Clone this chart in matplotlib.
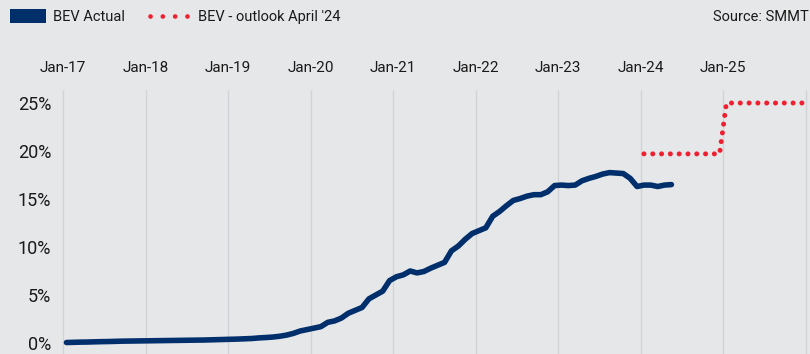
import matplotlib
matplotlib.use("Agg")
import matplotlib.pyplot as plt
from matplotlib.lines import Line2D
from matplotlib.patches import Rectangle
import numpy as np

plt.rcParams['font.family'] = ['Roboto', 'DejaVu Sans']

# Monthly BEV share of new registrations (%), Jan-17 to May-24
bev_actual = [
    0.05, 0.07, 0.09, 0.10, 0.12, 0.14, 0.15, 0.17, 0.19, 0.20, 0.21, 0.22,
    0.23, 0.24, 0.25, 0.26, 0.27, 0.28, 0.29, 0.30, 0.31, 0.33, 0.35, 0.37,
    0.39, 0.41, 0.44, 0.47, 0.53, 0.57, 0.62, 0.70, 0.82, 1.00, 1.25, 1.40,
    1.55, 1.70, 2.15, 2.30, 2.60, 3.10, 3.40, 3.70, 4.60, 5.00, 5.40, 6.50,
    6.90, 7.10, 7.50, 7.30, 7.45, 7.80, 8.10, 8.40, 9.60, 10.10, 10.80, 11.40,
    11.70, 12.00, 13.20, 13.70, 14.30, 14.85, 15.05, 15.30, 15.45, 15.45, 15.75, 16.40,
    16.45, 16.40, 16.45, 16.90, 17.15, 17.35, 17.60, 17.75, 17.70, 17.65, 17.15, 16.30,
    16.45, 16.45, 16.30, 16.45, 16.50,
]
# Outlook (April '24): 2024 and 2025 monthly levels (%)
bev_outlook = [19.7] * 12 + [25.0] * 12
outlook_start = 84  # months after Jan-17

year_labels = ["Jan-17", "Jan-18", "Jan-19", "Jan-20", "Jan-21",
               "Jan-22", "Jan-23", "Jan-24", "Jan-25", ""]
y_ticks = [0, 5, 10, 15, 20, 25]

BG = "#e6e7e9"
NAVY = "#002f6c"
RED = "#ee2030"
GRID = "#d2d3d6"

W, H = 810, 354
fig = plt.figure(figsize=(W / 100, H / 100), dpi=100, facecolor=BG)

# axes box in pixels
left_px, top_px = 58, 90
ax = fig.add_axes([left_px / W, 0, (W - left_px) / W, (H - top_px) / H])
ax.set_facecolor(BG)

# x in months from Jan-17; monthly points sit in the middle of their month
x_act = np.arange(len(bev_actual)) + 0.5
x_out = np.arange(len(bev_outlook)) + outlook_start + 0.5

ax.plot(x_act, bev_actual, color=NAVY, lw=4.0, solid_capstyle="round",
        solid_joinstyle="round", zorder=3)
ax.plot(x_out, bev_outlook, color=RED, lw=3.6, dashes=(0.01, 1.75),
        dash_capstyle="round", zorder=3)

px_per_month = 6.875
x0_px = 63
ax.set_xlim((left_px - x0_px) / px_per_month, (W - x0_px) / px_per_month)
y0_px, px_per_pct = 343, 9.6
ax.set_ylim(-(H - y0_px) / px_per_pct, (y0_px - top_px) / px_per_pct)

ax.set_xticks(np.arange(len(year_labels)) * 12)
ax.set_xticklabels(year_labels)
ax.xaxis.tick_top()
ax.tick_params(axis="x", length=0, pad=11, labelsize=11, colors="#1a1a1a")
ax.grid(axis="x", color=GRID, lw=1.0, zorder=0)

ax.set_yticks(y_ticks)
ax.set_yticklabels([f"{v}%" for v in y_ticks])
ax.tick_params(axis="y", length=0, pad=5, labelsize=13, colors="#1a1a1a")

for s in ax.spines.values():
    s.set_visible(False)

# legend row
def fx(px):
    return px / W

def fy(py):
    return 1 - py / H

fig.add_artist(Rectangle((fx(10), fy(23)), fx(36), 14 / H,
                         transform=fig.transFigure, color=NAVY, lw=0))
fig.text(fx(53), fy(17), "BEV Actual", fontsize=10.5, va="center",
         ha="left", color="#1a1a1a")
fig.add_artist(Line2D([fx(150), fx(187)], [fy(16), fy(16)],
                      transform=fig.transFigure, color=RED, lw=3.4,
                      dashes=(0.01, 2.6), dash_capstyle="round"))
fig.text(fx(198), fy(17), "BEV - outlook April '24", fontsize=10.5,
         va="center", ha="left", color="#1a1a1a")
fig.text(fx(809), fy(17), "Source: SMMT", fontsize=10.5, va="center",
         ha="right", color="#1a1a1a")

fig.savefig("out.png", dpi=100, facecolor=BG)
